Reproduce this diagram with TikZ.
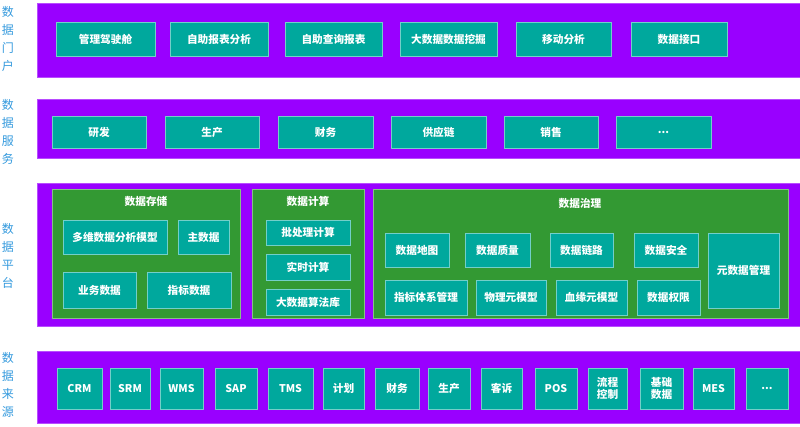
\documentclass[tikz,border=0pt]{standalone}
\usepackage{fontspec}
\setmainfont{Noto Sans CJK SC}
\begin{document}
\begin{tikzpicture}[x=0.75pt,y=-0.75pt,
 layer/.style={fill=lay,draw=lay!70!white},
 grp/.style={fill=grn,draw=grn!60!white,line width=0.6pt},
 bx/.style={fill=tl,draw=tl!55!white,line width=0.6pt},
 txt/.style={text=white,font=\bfseries\fontsize{8}{9}\selectfont},
 side/.style={text=sideblue,font=\fontsize{9}{13.5}\selectfont,align=center,text width=10pt,inner sep=0pt}]
\definecolor{lay}{HTML}{9900FF}
\definecolor{grn}{HTML}{339933}
\definecolor{tl}{HTML}{00A89D}
\definecolor{sideblue}{HTML}{3399DD}
\useasboundingbox (0,0) rectangle (800,427);
\newcommand{\bb}[6]{\draw[bx] (#2,#3) rectangle (#4,#5); \node[txt] (#1) at ({(#2+#4)/2},{(#3+#5)/2}) {#6};}
% side labels
\node[side] (s1) at (8,39) {数\\据\\门\\户};
\node[side] (s2) at (8,132) {数\\据\\服\\务};
\node[side] (s3) at (8,256) {数\\据\\平\\台};
\node[side] (s4) at (8,385) {数\\据\\来\\源};
% layers
\draw[layer] (37,3) rectangle (800,77);
\draw[layer] (37,99) rectangle (800,158);
\draw[layer] (37,183) rectangle (800,326);
\draw[layer] (37,351) rectangle (800,423);
% portal
\bb{p1}{56}{22}{155}{56}{管理驾驶舱}
\bb{p2}{170}{22}{268}{56}{自助报表分析}
\bb{p3}{285}{22}{382}{56}{自助查询报表}
\bb{p4}{400}{22}{497}{56}{大数据数据挖掘}
\bb{p5}{516}{22}{611}{56}{移动分析}
\bb{p6}{631}{22}{727}{56}{数据接口}
% services
\bb{v1}{52}{116}{146}{148}{研发}
\bb{v2}{165}{116}{259}{148}{生产}
\bb{v3}{278}{116}{373}{148}{财务}
\bb{v4}{391}{116}{486}{148}{供应链}
\bb{v5}{504}{116}{598}{148}{销售}
\bb{v6}{616}{116}{711}{148}{...}
% platform
\draw[grp] (52,189) rectangle (240,318);
\node[txt] (g1) at (146,201) {数据存储};
\draw[grp] (252,189) rectangle (364,318);
\node[txt] (g2) at (308,201) {数据计算};
\draw[grp] (373,189) rectangle (788,318);
\node[txt] (g3) at (580,203) {数据治理};
\bb{a1}{63}{220}{167}{254}{多维数据分析模型}
\bb{a2}{178}{220}{229}{254}{主数据}
\bb{a3}{63}{272}{136}{308}{业务数据}
\bb{a4}{147}{272}{231}{308}{指标数据}
\bb{c1}{266}{220}{350}{245}{批处理计算}
\bb{c2}{266}{254}{350}{280}{实时计算}
\bb{c3}{266}{289}{350}{315}{大数据算法库}
\bb{d1}{385}{233}{449}{267}{数据地图}
\bb{d2}{465}{233}{530}{267}{数据质量}
\bb{d3}{550}{233}{613}{267}{数据链路}
\bb{d4}{634}{233}{698}{267}{数据安全}
\bb{d5}{708}{233}{779}{308}{元数据管理}
\bb{d6}{385}{280}{467}{315}{指标体系管理}
\bb{d7}{476}{280}{546}{315}{物理元模型}
\bb{d8}{556}{280}{627}{315}{血缘元模型}
\bb{d9}{637}{280}{700}{315}{数据权限}
% sources
\bb{r1}{57}{368}{102}{409}{CRM}
\bb{r2}{110}{368}{150}{409}{SRM}
\bb{r3}{160}{368}{203}{409}{WMS}
\bb{r4}{215}{368}{257}{409}{SAP}
\bb{r5}{268}{368}{313}{409}{TMS}
\bb{r6}{323}{368}{364}{409}{计划}
\bb{r7}{375}{368}{419}{409}{财务}
\bb{r8}{428}{368}{470}{409}{生产}
\bb{r9}{481}{368}{522}{409}{客诉}
\bb{r10}{535}{368}{577}{409}{POS}
\draw[bx] (588,368) rectangle (627,409); \node[txt,align=center] (r11) at (607.5,388.5) {流程\\控制};
\draw[bx] (640,368) rectangle (683,409); \node[txt,align=center] (r12) at (661.5,388.5) {基础\\数据};
\bb{r13}{693}{368}{734}{409}{MES}
\bb{r14}{746}{368}{788}{409}{...}
\end{tikzpicture}
\end{document}
